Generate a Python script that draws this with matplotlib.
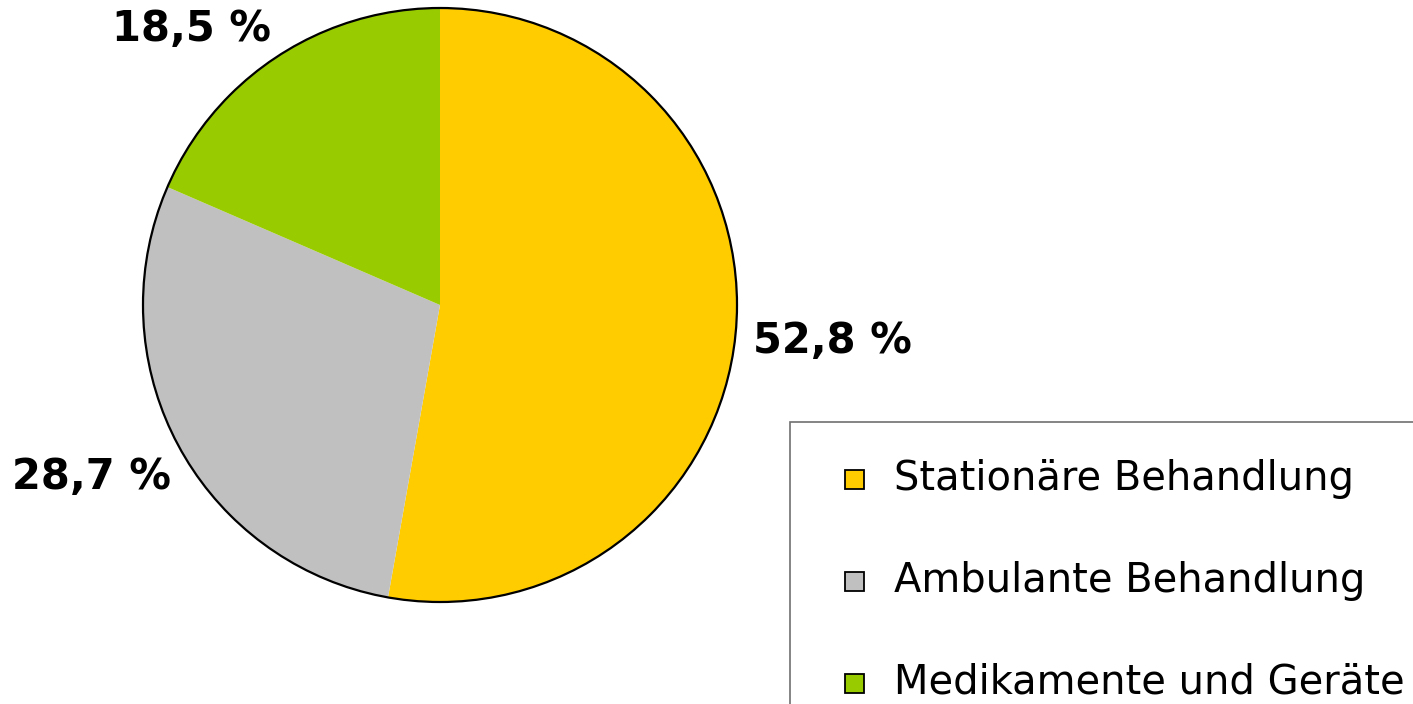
import numpy as np
import matplotlib.pyplot as plt
from matplotlib.patches import Circle, Rectangle

categories = ['Stationäre Behandlung', 'Ambulante Behandlung', 'Medikamente und Geräte']
shares = [52.8, 28.7, 18.5]
labels = ['52,8 %', '28,7 %', '18,5 %']
colors = ['#FFCC00', '#C0C0C0', '#99CC00']

W, H = 1413, 704
fig = plt.figure(figsize=(W / 100, H / 100), dpi=100)
ax = fig.add_axes([0, 0, 1, 1])

cx, cy, r = 440, H - 305, 297
ax.pie(shares, colors=colors, startangle=90, counterclock=False,
       center=(cx, cy), radius=r, frame=True,
       wedgeprops=dict(linewidth=0))
ax.set_xlim(0, W)
ax.set_ylim(0, H)
ax.set_aspect('equal')
ax.axis('off')
ax.add_patch(Circle((cx, cy), r, fill=False, edgecolor='black', linewidth=1.6))

# percentage labels outside the slices
label_pos = [(832, H - 341), (92, H - 477), (191, H - 29)]
for (x, y), txt in zip(label_pos, labels):
    ax.text(x, y, txt, ha='center', va='center', fontsize=30,
            fontweight='bold', family='DejaVu Sans')

# legend box (runs off the figure edge)
ax.add_patch(Rectangle((790, -50), 700, H - 422 + 50, fill=False,
                       edgecolor='#707070', linewidth=1.2))
for i, (name, col) in enumerate(zip(categories, colors)):
    y = H - (479 + i * 102)
    ax.add_patch(Rectangle((845, y - 9.5), 19, 19, facecolor=col,
                           edgecolor='black', linewidth=1.3))
    ax.text(894, y, name, ha='left', va='center', fontsize=28.8,
            family='DejaVu Sans')

fig.savefig('out.png', dpi=100)
